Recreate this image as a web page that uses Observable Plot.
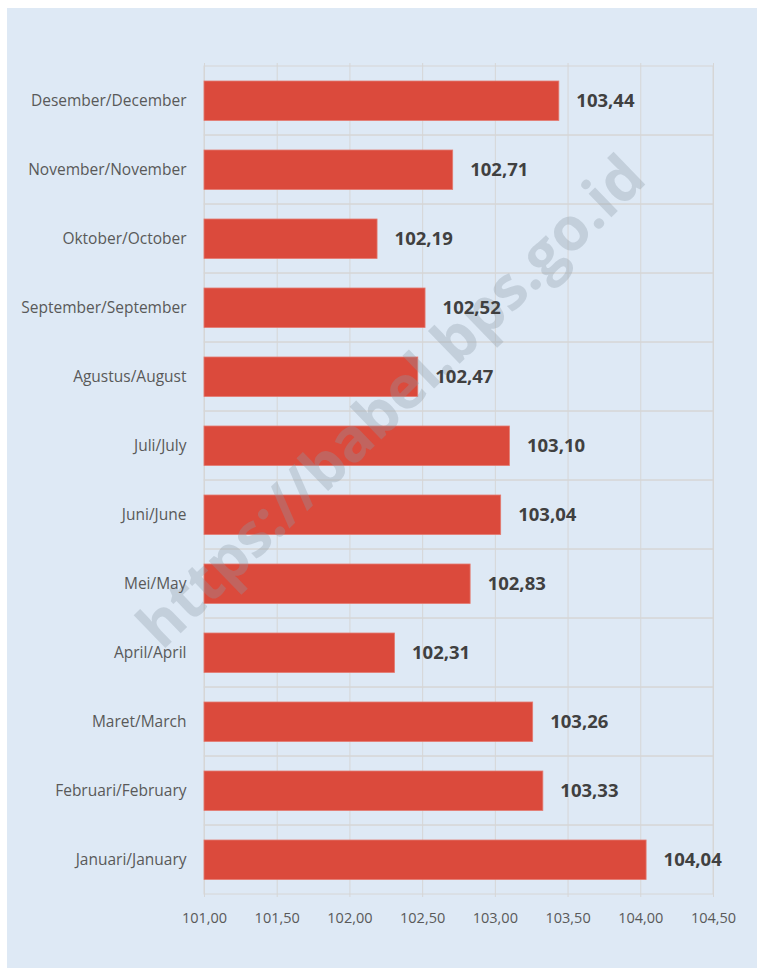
<!DOCTYPE html>
<html><head><meta charset="utf-8">
<script src="https://cdn.jsdelivr.net/npm/d3@7"></script>
<script src="https://cdn.jsdelivr.net/npm/@observablehq/plot@0.6"></script>
<style>
html,body{margin:0;padding:0;background:#fff;}
#panel{position:absolute;left:7px;top:8px;width:750px;height:960px;background:#dee9f5;}
#panel svg{display:block;}
</style></head><body><div id="panel"></div>
<script>
const months = ["Desember/December","November/November","Oktober/October","September/September","Agustus/August","Juli/July","Juni/June","Mei/May","April/April","Maret/March","Februari/February","Januari/January"];
const values = [103.44,102.71,102.19,102.52,102.47,103.10,103.04,102.83,102.31,103.26,103.33,104.04];
const xTicks = [101,101.5,102,102.5,103,103.5,104,104.5];
const watermark = "https://babel.bps.go.id";

const data = months.map((m,i)=>({month:m, value:values[i]}));
const fmt = d => d3.format(".2f")(d).replace(".", ",");
const grid = "#d6d6d6";

const chart = Plot.plot({
  width: 750, height: 960,
  marginLeft: 197, marginRight: 44, marginTop: 55, marginBottom: 71,
  style: {background: "transparent", fontFamily: "'Open Sans', sans-serif"},
  x: {domain: [101, 104.5], label: null},
  y: {domain: months, padding: 0, label: null},
  marks: [
    Plot.barX(months, {x1: 101, x2: 104.5, y: d => d, fill: "none", stroke: grid}),
    Plot.ruleX(xTicks, {stroke: grid}),
    Plot.barX(data, {x1: 101, x2: "value", y: "month", fill: "#db4a3c", stroke: "#e47b70", strokeWidth: 0.8, insetTop: 15, insetBottom: 14.5}),
    Plot.text([watermark], {frameAnchor: "middle", text: d => d, rotate: -44, dx: -67, dy: -78, fontSize: 60, fontWeight: "bold", fill: "#8c9aa6", fillOpacity: 0.33}),
    Plot.text(data, {x: "value", y: "month", text: d => fmt(d.value), textAnchor: "start", dx: 17, fontWeight: "bold", fontSize: 18.5, fill: "#404040"}),
    Plot.axisX({ticks: xTicks, tickFormat: fmt, tickSize: 0, tickPadding: 15, fontSize: 14.5, fill: "#595959", label: null}),
    Plot.axisY({tickSize: 0, tickPadding: 18, fontSize: 15.5, fill: "#595959", label: null})
  ]
});
document.getElementById("panel").appendChild(chart);
</script></body></html>
